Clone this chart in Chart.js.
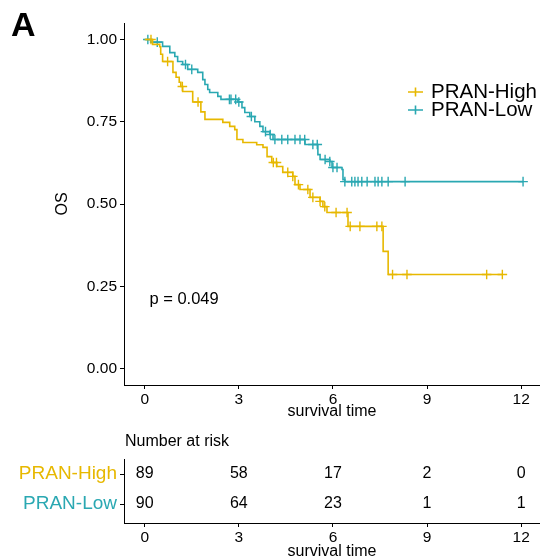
<!DOCTYPE html>
<html>
<head>
<meta charset="utf-8">
<script src="https://cdn.jsdelivr.net/npm/chart.js@4.4.1/dist/chart.umd.min.js"></script>
<style>
  html, body { margin: 0; padding: 0; background: #fff; }
  #wrap { position: relative; width: 540px; height: 560px; }
  #km { position: absolute; left: 0; top: 0; }
  #risk { position: absolute; left: 0; top: 420px; }
</style>
</head>
<body>
<div id="wrap">
  <canvas id="km" width="540" height="420"></canvas>
  <canvas id="risk" width="540" height="140"></canvas>
</div>
<script>
// grupos y colores
const grupos = ['PRAN-High', 'PRAN-Low'];
const colores = ['#E7B800', '#2AA8B2'];

// curva PRAN-High (tiempo del evento, supervivencia después del evento)
const highTime = [0, 0.25, 0.48, 0.51, 0.57, 0.9, 1.0, 1.1, 1.15, 1.21, 1.53, 1.79, 1.92, 2.49, 2.71, 2.87, 2.94, 3.13, 3.57, 3.77, 3.9, 4.05, 4.21, 4.4, 4.72, 4.79, 4.95, 5.27, 5.59, 5.68, 5.81, 6.48, 7.6, 7.76, 11.4];
const highSurv = [1, 0.985, 0.978, 0.955, 0.933, 0.9, 0.885, 0.87, 0.857, 0.842, 0.81, 0.78, 0.757, 0.748, 0.736, 0.726, 0.696, 0.687, 0.68, 0.672, 0.644, 0.626, 0.614, 0.596, 0.584, 0.559, 0.544, 0.52, 0.508, 0.492, 0.474, 0.432, 0.356, 0.286, 0.286];
const highCensor = [0.2, 0.73, 1.2, 1.7, 4.1, 4.2, 4.56, 4.72, 4.9, 5.2, 5.36, 5.59, 5.74, 6.1, 6.45, 6.55, 6.86, 7.4, 7.56, 7.9, 8.36, 10.9, 11.4];

// curva PRAN-Low
const lowTime = [0, 0.19, 0.57, 0.8, 0.96, 1.05, 1.21, 1.37, 1.69, 1.85, 1.92, 2.01, 2.07, 2.33, 2.43, 2.97, 3.1, 3.19, 3.35, 3.51, 3.67, 3.77, 3.99, 4.09, 5.11, 5.52, 5.59, 5.9, 5.97, 6.29, 6.32, 6.38, 12.06];
const lowSurv = [1, 0.992, 0.979, 0.96, 0.948, 0.933, 0.924, 0.909, 0.9, 0.878, 0.863, 0.848, 0.839, 0.827, 0.818, 0.81, 0.793, 0.778, 0.766, 0.75, 0.736, 0.72, 0.711, 0.696, 0.681, 0.65, 0.635, 0.629, 0.611, 0.605, 0.574, 0.568, 0.568];
const lowCensor = [0.1, 0.4, 1.3, 1.5, 2.7, 2.75, 2.9, 3.0, 3.4, 3.85, 4.0, 4.15, 4.37, 4.56, 4.79, 4.95, 5.1, 5.36, 5.5, 5.75, 5.9, 6.0, 6.13, 6.38, 6.6, 6.7, 6.8, 6.92, 7.09, 7.34, 7.44, 7.56, 7.76, 8.3, 12.06];

// ejes y tabla de riesgo
const xTicks = [0, 3, 6, 9, 12];
const yTicks = [0, 0.25, 0.5, 0.75, 1];
const riskTimes = [0, 3, 6, 9, 12];
const riskHigh = [89, 58, 17, 2, 0];
const riskLow = [90, 64, 23, 1, 1];
const pValor = 'p = 0.049';

const FONT = "'Liberation Sans', Arial, sans-serif";
Chart.defaults.font.family = FONT;
Chart.defaults.color = '#000';

function survAt(times, surv, t) {
    let s = surv[0];
    for (let i = 0; i < times.length; i++) if (times[i] <= t) s = surv[i];
    return s;
}

function ejeX(alto) {
    return {
        type: 'linear', min: -0.66, max: 12.6,
        afterBuildTicks: s => { s.ticks = xTicks.map(v => ({value: v})); },
        afterFit: s => { s.height = alto; s.paddingLeft = 0; s.paddingRight = 0; },
        ticks: {font: {size: 15.5}, color: '#000', padding: 1, maxRotation: 0, autoSkip: false},
        grid: {drawOnChartArea: false, tickLength: 4, tickColor: '#000'},
        border: {color: '#000', width: 1},
        title: {display: true, text: 'survival time', font: {size: 16, lineHeight: 1}, padding: 0, color: '#000'}
    };
}

// textos: letra del panel, valor p y leyenda
const anotaciones = {
    id: 'anotaciones',
    afterDraw(chart) {
        const ctx = chart.ctx;
        const {x, y} = chart.scales;
        ctx.save();
        ctx.fillStyle = '#000';
        ctx.font = `bold 34px ${FONT}`;
        ctx.textBaseline = 'alphabetic';
        ctx.fillText('A', 11, 36);
        ctx.textBaseline = 'middle';
        ctx.font = `16.5px ${FONT}`;
        ctx.fillText(pValor, x.getPixelForValue(0.15), y.getPixelForValue(0.21));
        grupos.forEach((g, i) => {
            const ly = 92 + i * 18;
            ctx.strokeStyle = colores[i];
            ctx.lineWidth = 1.6;
            ctx.beginPath();
            ctx.moveTo(408, ly); ctx.lineTo(423, ly);
            ctx.moveTo(415.5, ly - 4.5); ctx.lineTo(415.5, ly + 4.5);
            ctx.stroke();
            ctx.fillStyle = '#000';
            ctx.font = `20.5px ${FONT}`;
            ctx.fillText(g, 431, ly);
        });
        ctx.restore();
    }
};

const curvas = [[highTime, highSurv, highCensor], [lowTime, lowSurv, lowCensor]];
const datasets = [];
curvas.forEach(([t, s, c], i) => {
    datasets.push({
        label: grupos[i],
        data: t.map((v, k) => ({x: v, y: s[k]})),
        showLine: true, stepped: true,
        borderColor: colores[i], borderWidth: 1.6,
        pointRadius: 0, fill: false
    });
    datasets.push({
        label: grupos[i] + ' censor',
        data: c.map(v => ({x: v, y: survAt(t, s, v)})),
        showLine: false, pointStyle: 'cross',
        pointRadius: 4.8, borderWidth: 1.4,
        borderColor: colores[i], backgroundColor: colores[i]
    });
});

new Chart(document.getElementById('km'), {
    type: 'scatter',
    data: {datasets},
    options: {
        responsive: false, animation: false, devicePixelRatio: 1,
        layout: {autoPadding: false, padding: {top: 23, left: 0, right: 0, bottom: 0}},
        plugins: {legend: {display: false}, tooltip: {enabled: false}},
        scales: {
            x: ejeX(35),
            y: {
                type: 'linear', min: -0.05, max: 1.05,
                afterBuildTicks: s => { s.ticks = yTicks.map(v => ({value: v})); },
                afterFit: s => { s.width = 124; },
                ticks: {font: {size: 15.5}, color: '#000', padding: 3, callback: v => v.toFixed(2)},
                grid: {drawOnChartArea: false, tickLength: 4, tickColor: '#000'},
                border: {color: '#000', width: 1},
                title: {display: true, text: 'OS', font: {size: 16, lineHeight: 1}, padding: {top: 55, bottom: 0}, color: '#000'}
            }
        }
    },
    plugins: [anotaciones]
});

// tabla de número en riesgo
const numeros = {
    id: 'numeros',
    afterDraw(chart) {
        const ctx = chart.ctx;
        const {x, y} = chart.scales;
        ctx.save();
        ctx.font = `16px ${FONT}`;
        ctx.fillStyle = '#000';
        ctx.textAlign = 'center';
        ctx.textBaseline = 'middle';
        [riskHigh, riskLow].forEach((fila, i) => {
            fila.forEach((n, j) => ctx.fillText(String(n), x.getPixelForValue(riskTimes[j]), y.getPixelForValue(i)));
        });
        ctx.textAlign = 'left';
        ctx.fillText('Number at risk', chart.chartArea.left + 1, 22);
        ctx.restore();
    }
};

new Chart(document.getElementById('risk'), {
    type: 'scatter',
    data: {datasets: []},
    options: {
        responsive: false, animation: false, devicePixelRatio: 1,
        layout: {autoPadding: false, padding: {top: 39, left: 0, right: 0, bottom: 0}},
        plugins: {legend: {display: false}, tooltip: {enabled: false}},
        scales: {
            x: ejeX(37),
            y: {
                type: 'linear', reverse: true, min: -0.5, max: 1.63,
                afterBuildTicks: s => { s.ticks = [0, 1].map(v => ({value: v})); },
                afterFit: s => { s.width = 124; },
                ticks: {font: {size: 19}, padding: 3, callback: v => grupos[v], color: c => colores[c.index]},
                grid: {drawOnChartArea: false, tickLength: 4, tickColor: '#000'},
                border: {color: '#000', width: 1}
            }
        }
    },
    plugins: [numeros]
});
</script>
</body>
</html>
